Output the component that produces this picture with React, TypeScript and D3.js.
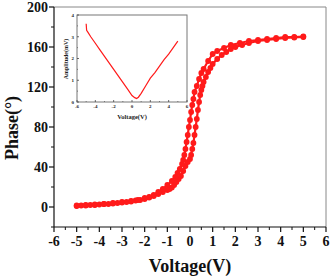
import React from "react";
import * as d3 from "d3";

const forwardV = [-5.0,-4.8,-4.6,-4.4,-4.2,-4.0,-3.8,-3.6,-3.4,-3.2,-3.0,-2.8,-2.6,-2.4,-2.2,-2.0,-1.8,-1.6,-1.4,-1.2,-1.0,-0.9,-0.8,-0.7,-0.6,-0.5,-0.4,-0.3,-0.2,-0.1,0.0,0.05,0.1,0.15,0.2,0.25,0.3,0.35,0.4,0.45,0.5,0.55,0.6,0.7,0.8,0.9,1.0,1.2,1.4,1.6,1.8,2.0,2.3,2.6,3.0,3.4,3.8,4.2,4.6,5.0];
const forwardPhase = [1,1.5,1.5,2,2,2.5,3,3,3.5,4,4.5,5,5.5,6.5,7,8,9.5,11,13,15,17,18,19.5,22,25,28,31,36,41,45,48,52,58,64,72,80,88,97,105,112,117,121,125,130,135,139,143,148,152,155,158,160,162,164,166,167,168,169,169.5,170];

const reverseV = [5.0,4.6,4.2,3.8,3.4,3.0,2.6,2.2,1.8,1.5,1.2,1.0,0.8,0.6,0.5,0.4,0.3,0.2,0.15,0.1,0.05,0.0,-0.05,-0.1,-0.15,-0.2,-0.25,-0.3,-0.35,-0.45,-0.55,-0.65,-0.8,-1.0,-1.2,-1.4,-1.6,-1.8,-2.0,-2.3,-2.6,-3.0,-3.4,-3.8,-4.2,-4.6,-5.0];
const reversePhase = [170.5,170,170,169,168,167,166,164,162,159,156,153,146,138,134,128,121,115,108,102,95,87,80,72,65,58,52,47,43,38,34,30,26,22,18,15,12,10,9,7,6,5,4,3,2.5,2,1.5];

const insetV = [-5.0,-4.95,-4.8,-4.5,-4.0,-3.5,-3.0,-2.5,-2.0,-1.5,-1.0,-0.5,0.0,0.3,0.5,0.7,1.0,1.5,2.0,2.5,3.0,3.5,4.0,4.5,5.0];
const insetAmp = [3.6,3.3,3.2,3.0,2.7,2.4,2.1,1.8,1.5,1.2,0.9,0.6,0.3,0.2,0.16,0.22,0.4,0.75,1.1,1.35,1.65,1.95,2.2,2.5,2.8];

const xTicks = [-6,-5,-4,-3,-2,-1,0,1,2,3,4,5,6];
const yTicks = [0,40,80,120,160,200];
const insetXTicks = [-6,-4,-2,0,2,4,6];
const insetYTicks = [0,1,2,3,4];

const RED = "#ff1a1a";
const FONT = "'Liberation Serif', 'Times New Roman', serif";

export default function App() {
  const x = d3.scaleLinear().domain([-6, 6]).range([54, 326]);
  const y = d3.scaleLinear().domain([-20, 200]).range([227, 7]);
  const ix = d3.scaleLinear().domain([-6, 6]).range([77, 187]);
  const iy = d3.scaleLinear().domain([0, 4]).range([102, 15]);

  const line = d3.line<[number, number]>().x(d => x(d[0])).y(d => y(d[1]));
  const fwd: [number, number][] = forwardV.map((v, i) => [v, forwardPhase[i]]);
  const rev: [number, number][] = reverseV.map((v, i) => [v, reversePhase[i]]);
  const iline = d3.line<[number, number]>().x(d => ix(d[0])).y(d => iy(d[1]));
  const ins: [number, number][] = insetV.map((v, i) => [v, insetAmp[i]]);

  const xMinor = d3.range(-6, 6.01, 0.5).filter(v => Math.abs(v - Math.round(v)) > 0.01);
  const yMinor = d3.range(-20, 200, 40);
  const ixMinor = d3.range(-5, 6, 2);
  const iyMinor = d3.range(0.5, 4, 1);

  return (
    <svg width={331} height={279} style={{ position: "absolute", left: 0, top: 0, background: "#fff" }}>
      {/* frame */}
      <line x1={54} x2={326} y1={7} y2={7} stroke="#888" strokeWidth={1} />
      <line x1={326} x2={326} y1={7} y2={227} stroke="#888" strokeWidth={1} />
      <line x1={54} x2={54} y1={7} y2={227} stroke="#111" strokeWidth={1.2} />
      <line x1={54} x2={326} y1={227} y2={227} stroke="#111" strokeWidth={1.2} />
      {/* x ticks */}
      {xTicks.map(t => (
        <g key={"xt" + t}>
          <line x1={x(t)} x2={x(t)} y1={227} y2={232} stroke="#111" strokeWidth={1.2} />
          <text x={x(t)} y={246} textAnchor="middle" fontFamily={FONT} fontWeight="bold" fontSize={14} fill="#111">{t}</text>
        </g>
      ))}
      {xMinor.map(t => (
        <line key={"xm" + t} x1={x(t)} x2={x(t)} y1={227} y2={230} stroke="#111" strokeWidth={1} />
      ))}
      {yTicks.map(t => (
        <g key={"yt" + t}>
          <line x1={49} x2={54} y1={y(t)} y2={y(t)} stroke="#111" strokeWidth={1.2} />
          <text x={48} y={y(t) + 5} textAnchor="end" fontFamily={FONT} fontWeight="bold" fontSize={14} fill="#111">{t}</text>
        </g>
      ))}
      {yMinor.map(t => (
        <line key={"ym" + t} x1={51} x2={54} y1={y(t)} y2={y(t)} stroke="#111" strokeWidth={1} />
      ))}
      <text x={190} y={272} textAnchor="middle" fontFamily={FONT} fontWeight="bold" fontSize={18} fill="#111">Voltage(V)</text>
      <text transform="translate(18,128) rotate(-90)" textAnchor="middle" fontFamily={FONT} fontWeight="bold" fontSize={18} fill="#111">Phase(°)</text>

      {/* data */}
      <path d={line(fwd) || ""} fill="none" stroke={RED} strokeWidth={2.2} />
      <path d={line(rev) || ""} fill="none" stroke={RED} strokeWidth={2.2} />
      {fwd.map((d, i) => (
        <circle key={"f" + i} cx={x(d[0])} cy={y(d[1])} r={2.9} fill={RED} />
      ))}
      {rev.map((d, i) => (
        <circle key={"r" + i} cx={x(d[0])} cy={y(d[1])} r={2.9} fill={RED} />
      ))}

      {/* inset */}
      <rect x={77} y={15} width={110} height={87} fill="#fff" stroke="#777" strokeWidth={1} />
      {insetXTicks.map(t => (
        <g key={"ixt" + t}>
          <line x1={ix(t)} x2={ix(t)} y1={102} y2={100} stroke="#444" strokeWidth={0.8} />
          <text x={ix(t)} y={108} textAnchor="middle" fontFamily={FONT} fontWeight="bold" fontSize={5} fill="#222">{t}</text>
        </g>
      ))}
      {ixMinor.map(t => (
        <line key={"ixm" + t} x1={ix(t)} x2={ix(t)} y1={102} y2={101} stroke="#444" strokeWidth={0.6} />
      ))}
      {insetYTicks.map(t => (
        <g key={"iyt" + t}>
          <line x1={77} x2={79} y1={iy(t)} y2={iy(t)} stroke="#444" strokeWidth={0.8} />
          <text x={74} y={iy(t) + 1.8} textAnchor="end" fontFamily={FONT} fontWeight="bold" fontSize={5} fill="#222">{t}</text>
        </g>
      ))}
      {iyMinor.map(t => (
        <line key={"iym" + t} x1={77} x2={78} y1={iy(t)} y2={iy(t)} stroke="#444" strokeWidth={0.6} />
      ))}
      <text x={132} y={119} textAnchor="middle" fontFamily={FONT} fontWeight="bold" fontSize={6.5} fill="#222">Voltage(V)</text>
      <text transform="translate(68,59) rotate(-90)" textAnchor="middle" fontFamily={FONT} fontWeight="bold" fontSize={6} fill="#222">Amplitude(mV)</text>
      <path d={iline(ins) || ""} fill="none" stroke={RED} strokeWidth={1.2} />
    </svg>
  );
}
